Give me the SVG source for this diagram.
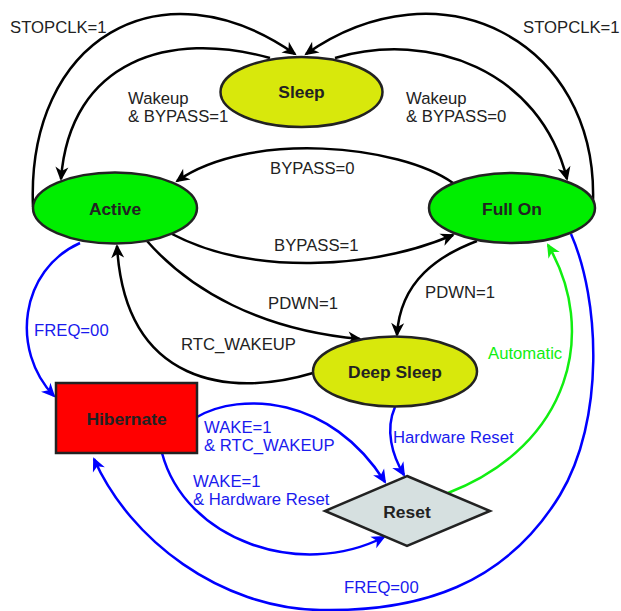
<svg xmlns="http://www.w3.org/2000/svg" width="621" height="611" viewBox="0 0 621 611">
<style>
.node{stroke:#222;stroke-width:2.5}
.nt{font-family:"Liberation Sans",Arial,sans-serif;font-size:17.4px;font-weight:bold;fill:#222;text-anchor:middle}
.lb{font-family:"Liberation Sans",Arial,sans-serif;font-size:16.7px;fill:#222}
.lbb{font-family:"Liberation Sans",Arial,sans-serif;font-size:16.7px;fill:#1a1aee}
.lbg{font-family:"Liberation Sans",Arial,sans-serif;font-size:16.7px;fill:#11ee11}
.ck{fill:none;stroke:#000;stroke-width:2.5;marker-end:url(#ak)}
.cb{fill:none;stroke:#0000ff;stroke-width:2.5;marker-end:url(#ab)}
.cg{fill:none;stroke:#11ee11;stroke-width:2.5;marker-end:url(#ag)}
</style>
<defs>
<marker id="ak" viewBox="-13 -7 16 14" refX="0" refY="0" markerWidth="16" markerHeight="14" markerUnits="userSpaceOnUse" orient="auto"><path d="M2,0 L-12,-6.5 L-8,0 L-12,6.5 z" fill="#000"/></marker>
<marker id="ab" viewBox="-13 -7 16 14" refX="0" refY="0" markerWidth="16" markerHeight="14" markerUnits="userSpaceOnUse" orient="auto"><path d="M2,0 L-12,-6.5 L-8,0 L-12,6.5 z" fill="#0000ff"/></marker>
<marker id="ag" viewBox="-13 -7 16 14" refX="0" refY="0" markerWidth="16" markerHeight="14" markerUnits="userSpaceOnUse" orient="auto"><path d="M2,0 L-12,-6.5 L-8,0 L-12,6.5 z" fill="#11ee11"/></marker>
</defs>
<g id="connectors">
<path class="ck" d="M33,207 C26,40 160,-40 295,54"/>
<path class="ck" d="M593,202 C598,40 440,-40 306,54"/>
<path class="ck" d="M270,58 C170,30 70,60 61,179"/>
<path class="ck" d="M335,58 C430,30 540,70 567,179"/>
<path class="ck" d="M453,183 C400,145 250,130 177,181"/>
<path class="ck" d="M172,234 C250,275 370,270 453,235"/>
<path class="ck" d="M147,241 C190,290 260,330 360,339"/>
<path class="ck" d="M313,373 C230,398 125,385 117,246"/>
<path class="ck" d="M477,241 C440,255 400,280 397,335"/>
<path class="cb" d="M80,243 C20,270 10,350 54,396"/>
<path class="cb" d="M197,417 C240,392 330,395 385,482"/>
<path class="cb" d="M162,453 C185,540 300,580 384,537"/>
<path class="cb" d="M395,407 C385,430 392,455 404,475"/>
<path class="cg" d="M448,493 C572,445 598,330 548,245"/>
<path class="cb" d="M571,234 C600,300 605,420 560,495 C505,585 420,612 320,610 C220,608 130,540 94,459"/>
</g>
<g id="labels">
<text class="lb" x="10" y="33">STOPCLK=1</text>
<text class="lb" x="523" y="33">STOPCLK=1</text>
<text class="lb" x="128" y="104">Wakeup</text>
<text class="lb" x="128" y="121.5">&amp; BYPASS=1</text>
<text class="lb" x="406" y="104">Wakeup</text>
<text class="lb" x="406" y="121.5">&amp; BYPASS=0</text>
<text class="lb" x="270" y="174">BYPASS=0</text>
<text class="lb" x="274" y="251">BYPASS=1</text>
<text class="lb" x="268" y="309">PDWN=1</text>
<text class="lb" x="425" y="298">PDWN=1</text>
<text class="lb" x="181" y="350">RTC_WAKEUP</text>
<text class="lbb" x="34" y="336">FREQ=00</text>
<text class="lbg" x="488" y="359">Automatic</text>
<text class="lbb" x="204" y="433">WAKE=1</text>
<text class="lbb" x="204" y="451">&amp; RTC_WAKEUP</text>
<text class="lbb" x="193" y="487">WAKE=1</text>
<text class="lbb" x="193" y="505">&amp; Hardware Reset</text>
<text class="lbb" x="393" y="443">Hardware Reset</text>
<text class="lbb" x="344" y="593">FREQ=00</text>
</g>
<g id="sleep"><ellipse class="node" cx="301.5" cy="92" rx="81" ry="35" fill="#d8e80c"/><text class="nt" x="301.5" y="98">Sleep</text></g>
<g id="active"><ellipse class="node" cx="115" cy="208" rx="82" ry="35.5" fill="#00ee00"/><text class="nt" x="115" y="215">Active</text></g>
<g id="fullon"><ellipse class="node" cx="512" cy="208" rx="83" ry="35" fill="#00ee00"/><text class="nt" x="512" y="215">Full On</text></g>
<g id="deepsleep"><ellipse class="node" cx="395" cy="371.5" rx="82" ry="35" fill="#d8e80c"/><text class="nt" x="395" y="378">Deep Sleep</text></g>
<g id="hibernate"><rect class="node" x="56" y="383" width="141" height="70" fill="#ff0000" stroke="#333"/><text class="nt" x="126.5" y="425">Hibernate</text></g>
<g id="reset"><polygon class="node" points="407,476 490,511 407,546 325,511" fill="#d6e0e0"/><text class="nt" x="407" y="518">Reset</text></g>
</svg>
